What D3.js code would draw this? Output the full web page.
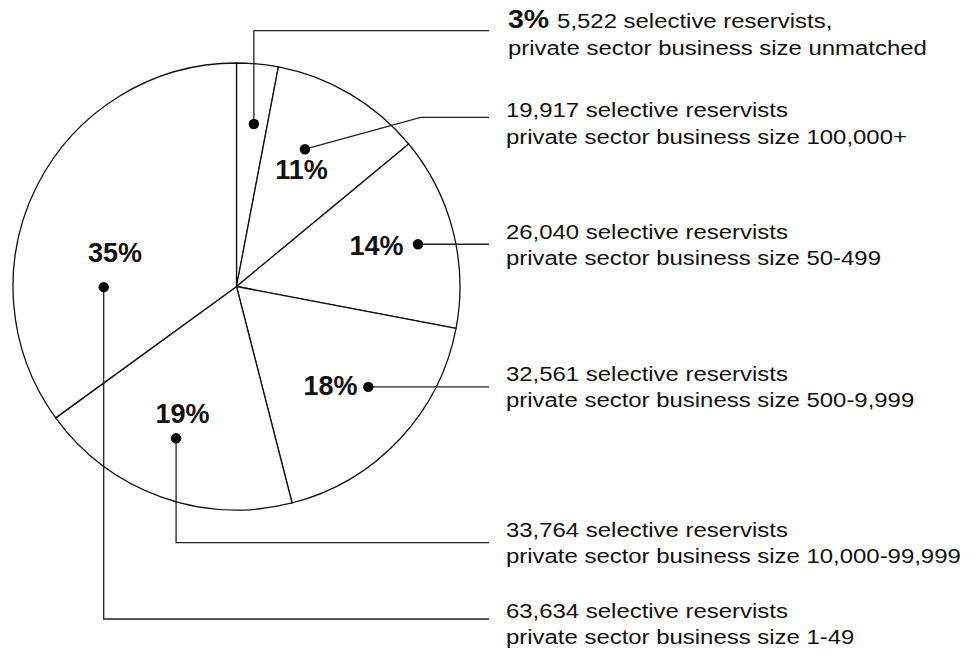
<!DOCTYPE html>
<html>
<head>
<meta charset="utf-8">
<script src="https://cdn.jsdelivr.net/npm/d3@7"></script>
<style>
  body { margin: 0; background: #fff; }
  text { font-family: "Liberation Sans", Arial, Helvetica, sans-serif; fill: #111; }
</style>
</head>
<body>
<div id="container"></div>
<script>
// slices, clockwise from 12 o'clock
let pctValues = [3, 11, 14, 18, 19, 35];
let pctLabels = ["3%", "11%", "14%", "18%", "19%", "35%"];
let countLabels = ["5,522", "19,917", "26,040", "32,561", "33,764", "63,634"];
let sizeLabels = ["unmatched", "100,000+", "50-499", "500-9,999", "10,000-99,999", "1-49"];

let svgWidth = 978, svgHeight = 654;
let cx = 236.5, cy = 286.5, radius = 223.5;
let labelX = 506, leaderEnd = 489;

// callout layout: dot (polar, deg clockwise from top), elbows, label spots
let callouts = [
  {dotA: 6.1,   dotR: 163.4, bend: "v", leaderY: 30.7,  textY: 28.3,  pct: null},
  {dotA: 26.5,  dotR: 153.4, bend: "d", bendX: 420.7, leaderY: 117.3, textY: 117.3, pct: [301.5, 178.5]},
  {dotA: 76.9,  dotR: 186.4, bend: "h", textY: 239,   pct: [376.5, 255]},
  {dotA: 127.3, dotR: 165.7, bend: "h", textY: 381,   pct: [330.5, 395]},
  {dotA: 201.7, dotR: 163.4, bend: "v", leaderY: 542.7, textY: 536.5, pct: [182.5, 422.7]},
  {dotA: 269.7, dotR: 132.8, bend: "v", leaderY: 619,   textY: 617.5, pct: [115, 262]}
];

let svg = d3.select("#container")
  .append("svg")
    .attr("width", svgWidth)
    .attr("height", svgHeight)
    .style("background-color", "#fff");

let pie = d3.pie().sort(null).value(d => d);
let arcs = pie(pctValues);
let arcGen = d3.arc().innerRadius(0).outerRadius(radius);

let pieGroup = svg.append("g").attr("transform", `translate(${cx},${cy})`);
pieGroup.selectAll("path")
  .data(arcs)
  .enter().append("path")
    .attr("d", arcGen)
    .attr("fill", "#fff")
    .attr("stroke", "#111")
    .attr("stroke-width", 1.3)
    .attr("stroke-linejoin", "round");

function polar(a, r) {
  let t = a * Math.PI / 180;
  return [cx + r * Math.sin(t), cy - r * Math.cos(t)];
}

// leader lines
callouts.forEach(function(c, i) {
  let p = polar(c.dotA, c.dotR);
  let pts;
  if (c.bend === "v") pts = [p, [p[0], c.leaderY], [leaderEnd, c.leaderY]];
  else if (c.bend === "d") pts = [p, [c.bendX, c.leaderY], [leaderEnd, c.leaderY]];
  else pts = [p, [leaderEnd, p[1]]];
  c.dot = p;

  svg.append("path")
    .attr("d", d3.line()(pts))
    .attr("fill", "none")
    .attr("stroke", "#222")
    .attr("stroke-width", 1.3);

  svg.append("circle")
    .attr("cx", p[0]).attr("cy", p[1]).attr("r", 5.2)
    .attr("fill", "#000");
});

// percentage labels inside the pie
svg.selectAll("text.pct")
  .data(callouts.filter(c => c.pct))
  .enter().append("text")
    .attr("class", "pct")
    .attr("x", c => c.pct[0])
    .attr("y", c => c.pct[1])
    .attr("text-anchor", "middle")
    .style("font-size", "27px")
    .style("font-weight", "bold")
    .text(c => pctLabels[callouts.indexOf(c)]);

// right-hand labels
callouts.forEach(function(c, i) {
  let x = i === 0 ? labelX + 2 : labelX;
  let g = svg.append("g").attr("transform", `translate(${x},${c.textY}) scale(1.14,1)`);
  let t1 = g.append("text").attr("x", 0).attr("y", 0).style("font-size", "21px");
  if (i === 0) {
    t1.append("tspan").style("font-weight", "bold").style("font-size", "25px").text(pctLabels[0] + " ");
    t1.append("tspan").text(countLabels[0] + " selective reservists,");
  } else {
    t1.text(countLabels[i] + " selective reservists");
  }
  g.append("text").attr("x", 0).attr("y", 26.5).style("font-size", "21px")
    .text("private sector business size " + sizeLabels[i]);
});
</script>
</body>
</html>
